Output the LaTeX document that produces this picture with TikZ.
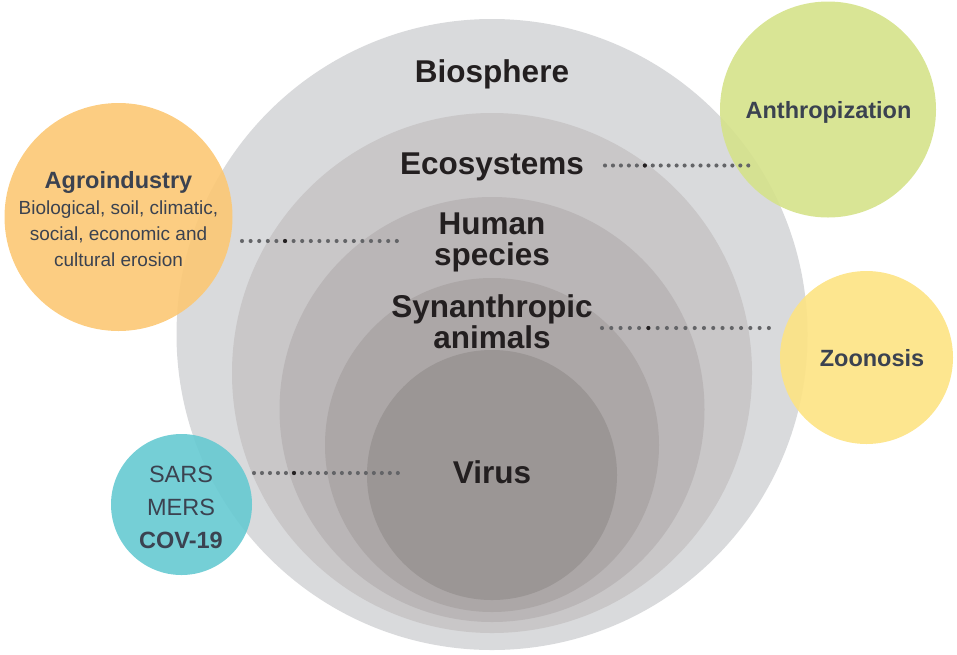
\documentclass[tikz,border=0pt]{standalone}
\usepackage{fontspec}
\setmainfont{Liberation Sans}
\usetikzlibrary{calc}
\definecolor{bio}{HTML}{D9DADC}
\definecolor{eco}{HTML}{C9C7C8}
\definecolor{hum}{HTML}{BAB6B7}
\definecolor{syn}{HTML}{ACA7A7}
\definecolor{vir}{HTML}{9B9695}
\definecolor{green}{HTML}{D5E28A}
\definecolor{orange}{HTML}{FCC874}
\definecolor{yellow}{HTML}{FDE383}
\definecolor{teal}{HTML}{66CAD2}
\definecolor{labeldark}{HTML}{231F20}
\definecolor{sidetext}{HTML}{3B4250}
\definecolor{dotgray}{HTML}{636467}
\begin{document}
\begin{tikzpicture}[x=1pt,y=-1pt,
  ring/.style={circle,inner sep=0pt,minimum size=#1,draw=none},
  side/.style={circle,inner sep=0pt,minimum size=#1,draw=none,fill opacity=0.9},
  biglabel/.style={font=\fontsize{31.5}{31}\selectfont\bfseries,text=labeldark,align=center,inner sep=0pt,anchor=base},
  sidelabel/.style={font=\fontsize{23.5}{33}\selectfont,text=sidetext,align=center,inner sep=0pt,anchor=base},
  bodylabel/.style={font=\fontsize{19}{26}\selectfont,text=sidetext,align=center,inner sep=0pt,anchor=base},
  dotline/.style={draw=dotgray,line width=4.1pt,line cap=round,dash pattern=on 0pt off #1},
  darkdot/.style={circle,fill=labeldark,inner sep=0pt,minimum size=4.1pt}
]
\useasboundingbox (0,0) rectangle (957,654);

% nested gray circles
\node[ring=631pt,fill=bio] (biosphere) at (492,334.5) {};
\node[ring=520pt,fill=eco] (ecosystems) at (492,373) {};
\node[ring=425pt,fill=hum] (human) at (492,409.5) {};
\node[ring=334pt,fill=syn] (synanthropic) at (492,445) {};
\node[ring=250pt,fill=vir] (virus) at (492,475) {};

% side circles
\node[side=216pt,fill=green] (anthrop) at (828,109.5) {};
\node[side=228pt,fill=orange] (agro) at (118.5,217) {};
\node[side=173pt,fill=yellow] (zoono) at (866.5,357.5) {};
\node[side=141pt,fill=teal] (sars) at (181.5,504.5) {};

% gray labels (base = baseline of last line)
\node[biglabel] (tbio) at (492,82) {Biosphere};
\node[biglabel] (teco) at (492,174) {Ecosystems};
\node[biglabel] (thum) at (492,265) {Human\\species};
\node[biglabel] (tsyn) at (492,348) {Synanthropic\\animals};
\node[biglabel] (tvir) at (492,483) {Virus};

% side labels
\node[sidelabel,font=\fontsize{23.5}{33}\selectfont\bfseries] (tanth) at (828.5,118) {Anthropization};
\node[sidelabel,font=\fontsize{23.5}{33}\selectfont\bfseries] (tzoo) at (872,366) {Zoonosis};
\node[sidelabel,font=\fontsize{23.5}{33}\selectfont\bfseries] (tagro) at (118.5,188) {Agroindustry};
\node[bodylabel] (tagrob) at (118.5,266) {Biological, soil, climatic,\\social, economic and\\cultural erosion};
\node[sidelabel] (tsars) at (181,548) {SARS\\MERS\\\textbf{COV-19}};

% dotted connectors
\coordinate (e1) at (605,165.5);  \coordinate (a1) at (748.5,165.5);
\coordinate (e2) at (242,241);    \coordinate (a2) at (397,241);
\coordinate (e3) at (602,328);    \coordinate (a3) at (769,328);
\coordinate (e4) at (254,473);    \coordinate (a4) at (398,473);
\draw[dotline=7.96pt] (e1) -- (a1);
\draw[dotline=8.6pt] (e2) -- (a2);
\draw[dotline=9.27pt] (e3) -- (a3);
\draw[dotline=7.99pt] (e4) -- (a4);
\node[darkdot] (d1) at ($(e1)!5/18!(a1)$) {};
\node[darkdot] (d2) at ($(e2)!5/18!(a2)$) {};
\node[darkdot] (d3) at ($(e3)!5/18!(a3)$) {};
\node[darkdot] (d4) at ($(e4)!5/18!(a4)$) {};
\end{tikzpicture}
\end{document}
